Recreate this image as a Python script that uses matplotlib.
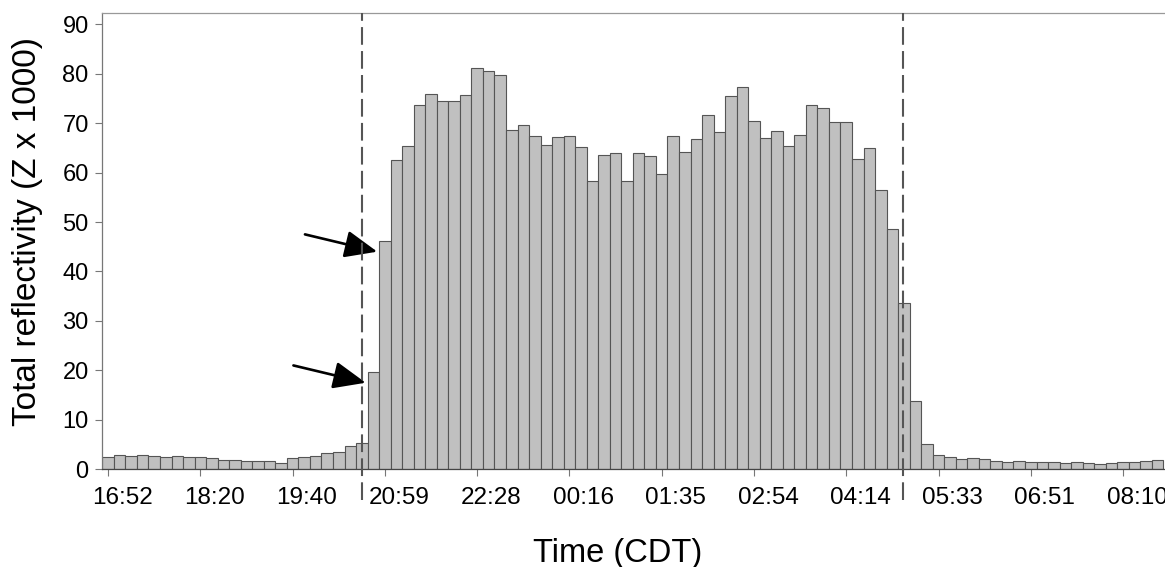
import matplotlib
matplotlib.use("Agg")
import matplotlib.pyplot as plt
import matplotlib.transforms as mtransforms
import numpy as np

plt.rcParams['font.family'] = ['Liberation Sans', 'DejaVu Sans']

# total reflectivity per time bin (Z x 1000)
reflectivity = [
    2.5, 2.8, 2.6, 2.8, 2.6, 2.5, 2.6, 2.5, 2.5, 2.2,
    1.95, 1.9, 1.6, 1.7, 1.6, 1.35, 2.2, 2.55, 2.75, 3.2,
    3.45, 4.8, 5.25, 19.6, 46.1, 62.6, 65.3, 73.6, 75.9, 74.5,
    74.5, 75.7, 81.2, 80.5, 79.8, 68.7, 69.7, 67.4, 65.5, 67.2,
    67.4, 65.1, 58.2, 63.5, 63.9, 58.2, 63.9, 63.3, 59.8, 67.4,
    64.1, 66.7, 71.7, 68.1, 75.5, 77.2, 70.5, 66.9, 68.5, 65.3,
    67.5, 73.6, 73.0, 70.3, 70.3, 62.8, 65.0, 56.4, 48.5, 33.6,
    13.8, 5.2, 2.8, 2.55, 2.15, 2.35, 2.15, 1.75, 1.55, 1.75,
    1.5, 1.5, 1.55, 1.2, 1.5, 1.2, 1.15, 1.35, 1.55, 1.5,
    1.75, 1.9,
]
tick_idx = [0, 8, 16, 24, 32, 40, 48, 56, 64, 72, 80, 88]
tick_labels = ['16:52', '18:20', '19:40', '20:59', '22:28', '00:16',
               '01:35', '02:54', '04:14', '05:33', '06:51', '08:10']
event_bounds = [22.0, 68.9]   # dashed lines (bin positions)
arrow_bins = [24, 23]         # bins pointed at by the arrows

W, H = 1165, 567
fig = plt.figure(figsize=(W / 100, H / 100), dpi=100)
ax = fig.add_axes([102.3 / W, 1 - 469.3 / H, 1 - 102.3 / W, (469.3 - 13.3) / H])

x = np.arange(len(reflectivity))
ax.bar(x, reflectivity, width=1.0, color='#c0c0c0', edgecolor='#555555',
       linewidth=0.8, zorder=2)

ax.set_xlim(-0.5, -0.5 + (W - 102.3) / 11.534)
ax.set_ylim(0, 92.2)

ax.set_yticks(np.arange(0, 91, 10))
ax.set_xticks(tick_idx)
ax.set_xticklabels(tick_labels)
ax.tick_params(axis='y', labelsize=17, length=5, width=0.8, color='#777777', pad=4.8)
ax.tick_params(axis='x', labelsize=17.5, length=5, width=0.8, color='#777777', pad=7.5)

# labels sit a little right of their ticks in the original
offset = mtransforms.ScaledTranslation(14 / 100, 0, fig.dpi_scale_trans)
for lab in ax.get_xticklabels():
    lab.set_transform(lab.get_transform() + offset)

ax.spines['right'].set_visible(False)
ax.spines['top'].set_color('#999999')
ax.spines['left'].set_color('#777777')
ax.spines['bottom'].set_color('#444444')
for s in ['top', 'left', 'bottom']:
    ax.spines[s].set_linewidth(0.9)

for xb in event_bounds:
    ax.plot([xb, xb], [-6.2, 92.2], color='#555555', lw=1.5,
            dashes=(8.5, 3), clip_on=False, zorder=4)

for b in arrow_bins:
    tip = (b - 0.66, reflectivity[b] - 2.1)
    tail = (tip[0] - 6.27, tip[1] + 3.5)
    ax.annotate('', xy=tip, xytext=tail,
                arrowprops=dict(arrowstyle='-|>,head_length=1.0,head_width=0.42',
                                mutation_scale=20, lw=1.9, color='black',
                                shrinkA=0, shrinkB=0))

fig.text(617.5 / W, 1 - 561.7 / H, 'Time (CDT)', fontsize=23.5,
         ha='center', va='baseline')
fig.text(28 / W, 1 - 231 / H, 'Total reflectivity (Z x 1000)', fontsize=24,
         rotation=90, ha='center', va='center')

fig.savefig('out.png', dpi=100)
